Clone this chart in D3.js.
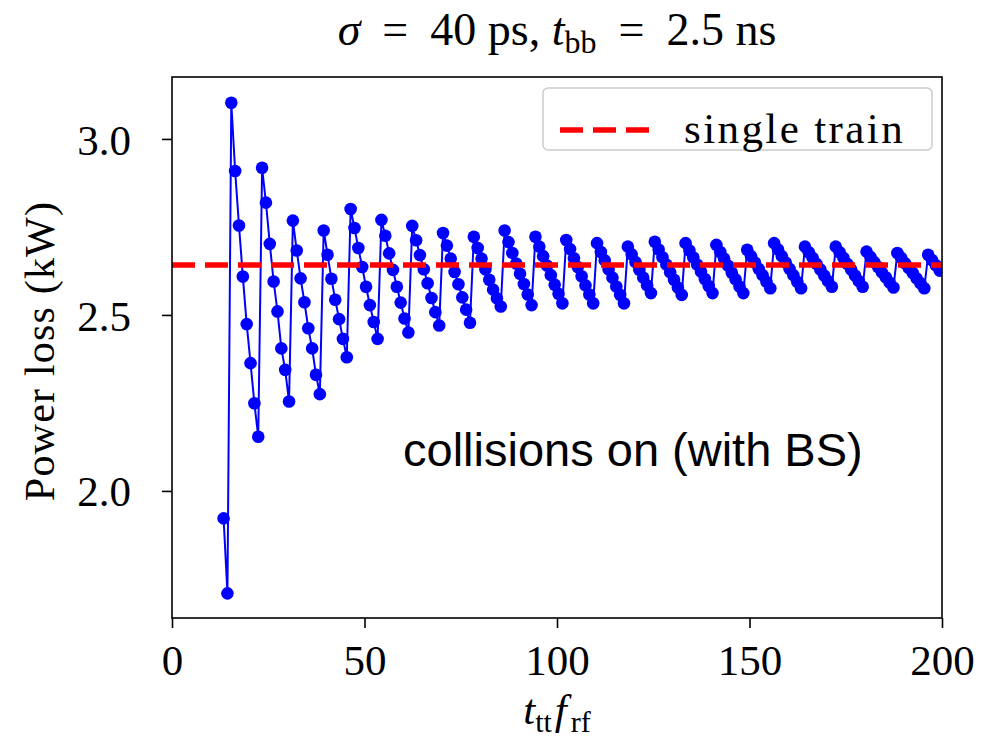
<!DOCTYPE html>
<html>
<head>
<meta charset="utf-8">
<script src="https://cdn.jsdelivr.net/npm/d3@7"></script>
<style>
  body { margin: 0; background: #fff; }
  svg text { font-family: "Liberation Serif", "DejaVu Serif", serif; fill: #000; }
</style>
</head>
<body>
<div id="canva"></div>
<script>
// x grid: one point per unit of t_tt f_rf, starting at firstX
const firstX = 13.4;

// power loss (kW), one run per saw tooth
const leadIn = [1.922, 1.709];
const runs = [
    [3.103, 2.909, 2.754, 2.609, 2.474, 2.363, 2.249, 2.154],
    [2.918, 2.819, 2.702, 2.595, 2.510, 2.405, 2.344, 2.254],
    [2.768, 2.683, 2.604, 2.536, 2.462, 2.405, 2.330, 2.275],
    [2.740, 2.671, 2.603, 2.543, 2.488, 2.432, 2.380],
    [2.801, 2.747, 2.690, 2.636, 2.580, 2.528, 2.480, 2.432],
    [2.770, 2.725, 2.675, 2.628, 2.580, 2.535, 2.490, 2.450],
    [2.753, 2.712, 2.670, 2.630, 2.590, 2.548, 2.508, 2.470],
    [2.733, 2.697, 2.660, 2.622, 2.587, 2.550, 2.515, 2.478],
    [2.722, 2.690, 2.660, 2.630, 2.600, 2.572, 2.547, 2.524],
    [2.740, 2.707, 2.676, 2.646, 2.617, 2.588, 2.558, 2.528],
    [2.722, 2.694, 2.667, 2.640, 2.613, 2.586, 2.560, 2.533],
    [2.713, 2.687, 2.661, 2.636, 2.610, 2.584, 2.558, 2.533],
    [2.704, 2.679, 2.655, 2.630, 2.606, 2.581, 2.557, 2.533],
    [2.694, 2.672, 2.650, 2.628, 2.606, 2.584, 2.562],
    [2.708, 2.686, 2.664, 2.643, 2.621, 2.600, 2.578, 2.557],
    [2.704, 2.683, 2.663, 2.643, 2.623, 2.602, 2.582, 2.562],
    [2.699, 2.679, 2.660, 2.640, 2.620, 2.601, 2.581, 2.562],
    [2.685, 2.667, 2.649, 2.631, 2.613, 2.594, 2.576],
    [2.704, 2.686, 2.667, 2.649, 2.631, 2.613, 2.594, 2.576],
    [2.694, 2.678, 2.662, 2.645, 2.629, 2.612, 2.596, 2.580],
    [2.694, 2.678, 2.662, 2.645, 2.629, 2.612, 2.596, 2.580],
    [2.680, 2.665, 2.650, 2.636, 2.621, 2.607, 2.592, 2.578],
    [2.676, 2.662, 2.647, 2.633, 2.619, 2.604, 2.590, 2.576],
    [2.671, 2.656, 2.641, 2.626]
];
const singleTrain = 2.642;

const xTicks = [0, 50, 100, 150, 200];
const yTicks = [2.0, 2.5, 3.0];

const data = leadIn.concat(...runs).map((v, i) => ({ x: firstX + i, y: v }));

const width = 982;
const height = 744;
const margin = { top: 77, right: 40, bottom: 126, left: 172 };

const svg = d3.select("#canva").append("svg")
    .attr("width", width)
    .attr("height", height);

const x = d3.scaleLinear()
    .domain([0, 200])
    .range([margin.left, width - margin.right]);

const y = d3.scaleLinear()
    .domain([1.639, 3.176])
    .range([height - margin.bottom, margin.top]);

svg.append("clipPath").attr("id", "plot-clip")
    .append("rect")
    .attr("x", x(0))
    .attr("y", y(3.176))
    .attr("width", x(200) - x(0))
    .attr("height", y(1.639) - y(3.176));

const plot = svg.append("g").attr("clip-path", "url(#plot-clip)");

const line = d3.line().x(d => x(d.x)).y(d => y(d.y));

plot.append("path")
    .datum(data)
    .attr("fill", "none")
    .attr("stroke", "#0000ff")
    .attr("stroke-width", 2)
    .attr("d", line);

plot.append("g")
    .attr("fill", "#0000ff")
    .selectAll("circle")
    .data(data)
    .join("circle")
        .attr("cx", d => x(d.x))
        .attr("cy", d => y(d.y))
        .attr("r", 6.3);

plot.append("line")
    .attr("x1", x(0))
    .attr("x2", x(200))
    .attr("y1", y(singleTrain))
    .attr("y2", y(singleTrain))
    .attr("stroke", "#ff0000")
    .attr("stroke-width", 5.5)
    .attr("stroke-dasharray", "23 10");

function xAxis(g) {
    g.attr("transform", `translate(0, ${y(1.639)})`)
        .call(d3.axisBottom(x).tickValues(xTicks).tickSize(10).tickPadding(16).tickFormat(d3.format("d")));
    g.select(".domain").remove();
    g.selectAll(".tick line").attr("stroke-width", 1.6);
    g.selectAll("text")
        .attr("font-size", "43px")
        .style("font-family", "'Liberation Serif', serif");
}

function yAxis(g) {
    g.attr("transform", `translate(${x(0)}, 0)`)
        .call(d3.axisLeft(y).tickValues(yTicks).tickSize(10).tickPadding(31).tickFormat(d3.format(".1f")));
    g.select(".domain").remove();
    g.selectAll(".tick line").attr("stroke-width", 1.6);
    g.selectAll("text")
        .attr("font-size", "43px")
        .attr("dy", "0.35em")
        .style("font-family", "'Liberation Serif', serif");
}

svg.append("g").call(xAxis);
svg.append("g").call(yAxis);

// axes frame
svg.append("rect")
    .attr("x", x(0))
    .attr("y", y(3.176))
    .attr("width", x(200) - x(0))
    .attr("height", y(1.639) - y(3.176))
    .attr("fill", "none")
    .attr("stroke", "#000")
    .attr("stroke-width", 1.6);

// title, with math-style spacing round the equals signs
const title = svg.append("text")
    .attr("x", (x(0) + x(200)) / 2)
    .attr("y", 45)
    .attr("text-anchor", "middle")
    .attr("font-size", "46px");
title.append("tspan").attr("font-style", "italic").text("σ");
title.append("tspan").attr("dx", 22).text("=");
title.append("tspan").attr("dx", 22).text("40 ps, ");
title.append("tspan").attr("font-style", "italic").text("t");
title.append("tspan").attr("font-size", "32px").attr("dy", 8).text("bb");
title.append("tspan").attr("dy", -8).attr("dx", 22).text("=");
title.append("tspan").attr("dx", 22).text("2.5 ns");

// x label
const xLabel = svg.append("text")
    .attr("x", (x(0) + x(200)) / 2)
    .attr("y", 724)
    .attr("text-anchor", "middle")
    .attr("font-size", "43px");
xLabel.append("tspan").attr("font-style", "italic").text("t");
xLabel.append("tspan").attr("font-size", "30px").attr("dy", 8).text("tt");
xLabel.append("tspan").attr("font-style", "italic").attr("dy", -8).attr("dx", 3).text("f");
xLabel.append("tspan").attr("font-size", "30px").attr("dy", 8).attr("dx", 4).text("rf");

// y label
svg.append("text")
    .attr("transform", `translate(54, 351) rotate(-90)`)
    .attr("text-anchor", "middle")
    .attr("font-size", "42px")
    .attr("letter-spacing", "1.2px")
    .text("Power loss (kW)");

// legend
const legend = svg.append("g");
legend.append("rect")
    .attr("x", 543)
    .attr("y", 88)
    .attr("width", 389)
    .attr("height", 62)
    .attr("rx", 5)
    .attr("fill", "#fff")
    .attr("fill-opacity", 0.8)
    .attr("stroke", "#cccccc")
    .attr("stroke-width", 1.5);
legend.append("line")
    .attr("x1", 560)
    .attr("x2", 652)
    .attr("y1", 130)
    .attr("y2", 130)
    .attr("stroke", "#ff0000")
    .attr("stroke-width", 5.5)
    .attr("stroke-dasharray", "23 10");
legend.append("text")
    .attr("x", 684)
    .attr("y", 143)
    .attr("font-size", "43px")
    .attr("letter-spacing", "2.4px")
    .text("single train");

// annotation
svg.append("text")
    .attr("x", 403)
    .attr("y", 466)
    .attr("font-size", "47px")
    .style("font-family", "'Liberation Sans', Arial, sans-serif")
    .text("collisions on (with BS)");
</script>
</body>
</html>
